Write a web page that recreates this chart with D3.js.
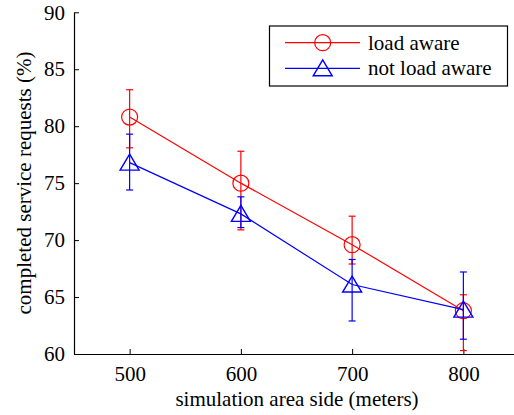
<!DOCTYPE html>
<html>
<head>
<meta charset="utf-8">
<script src="https://cdn.jsdelivr.net/npm/d3@7"></script>
<style>
  body { margin: 0; background: #fff; }
  svg text { font-family: "Liberation Serif", "Times New Roman", serif; }
</style>
</head>
<body>
<svg id="chart" width="514" height="415"></svg>
<script>
// data
var sides = [500, 600, 700, 800];
var awareMean = [80.8, 75.0, 69.6, 63.8];
var awareLow  = [78.1, 70.9, 67.9, 60.3];
var awareHigh = [83.2, 77.8, 72.1, 65.2];
var notAwareMean = [76.8, 72.3, 66.1, 63.9];
var notAwareLow  = [74.4, 71.1, 62.9, 61.3];
var notAwareHigh = [79.3, 73.8, 68.3, 67.2];
var yTicks = [60, 65, 70, 75, 80, 85, 90];
var seriesNames = ["load aware", "not load aware"];

var svg = d3.select("svg");

var x = d3.scaleLinear().domain([450, 850]).range([74, 519]);
var y = d3.scaleLinear().domain([60, 90]).range([354, 12.3]);

function build(mean, lo, hi) {
  return sides.map(function(s, i) {
    return { x: s, y: mean[i], lo: lo[i], hi: hi[i] };
  });
}
var series = [
  { name: seriesNames[0], color: "#ff0000", shape: "circle", values: build(awareMean, awareLow, awareHigh) },
  { name: seriesNames[1], color: "#0000ff", shape: "triangle", values: build(notAwareMean, notAwareLow, notAwareHigh) }
];

// axes
var xAxis = svg.append("g")
  .attr("transform", "translate(0," + y(60) + ")")
  .call(d3.axisBottom(x).tickValues(sides).tickSizeInner(-5).tickSizeOuter(0).tickPadding(12));
var yAxis = svg.append("g")
  .attr("transform", "translate(" + x(450) + ",0)")
  .call(d3.axisLeft(y).tickValues(yTicks).tickSizeInner(-5).tickSizeOuter(0).tickPadding(9));

[xAxis, yAxis].forEach(function(a) {
  a.select(".domain").attr("stroke", "#000").attr("stroke-width", 1.2);
  a.selectAll(".tick line").attr("stroke", "#000");
  a.selectAll(".tick text").attr("font-size", 21).attr("fill", "#000")
    .attr("font-family", "Liberation Serif");
});

svg.append("text")
  .attr("x", 297).attr("y", 406)
  .attr("text-anchor", "middle")
  .attr("font-size", 21)
  .text("simulation area side (meters)");

svg.append("text")
  .attr("transform", "translate(31,183) rotate(-90)")
  .attr("text-anchor", "middle")
  .attr("font-size", 21)
  .text("completed service requests (%)");

var line = d3.line().x(function(d) { return x(d.x); }).y(function(d) { return y(d.y); });

function drawMarker(g, shape, color) {
  if (shape === "circle") {
    g.append("circle").attr("r", 8).attr("fill", "none")
      .attr("stroke", color).attr("stroke-width", 1.2);
  } else {
    g.append("path").attr("d", "M0,-8.5L9.5,7.5L-9.5,7.5Z").attr("fill", "none")
      .attr("stroke", color).attr("stroke-width", 1.4);
  }
}

series.forEach(function(s) {
  var g = svg.append("g");
  // error bars
  s.values.forEach(function(d) {
    var cx = x(d.x);
    g.append("line").attr("x1", cx).attr("x2", cx).attr("y1", y(d.lo)).attr("y2", y(d.hi))
      .attr("stroke", s.color).attr("stroke-width", 1.2);
    [d.lo, d.hi].forEach(function(v) {
      g.append("line").attr("x1", cx - 3.5).attr("x2", cx + 3.5).attr("y1", y(v)).attr("y2", y(v))
        .attr("stroke", s.color).attr("stroke-width", 1.2);
    });
  });
  g.append("path").datum(s.values).attr("d", line)
    .attr("fill", "none").attr("stroke", s.color).attr("stroke-width", 1.2);
  s.values.forEach(function(d) {
    var m = g.append("g").attr("transform", "translate(" + x(d.x) + "," + y(d.y) + ")");
    drawMarker(m, s.shape, s.color);
  });
});

// legend
var legend = svg.append("g");
legend.append("rect").attr("x", 269.5).attr("y", 26).attr("width", 238).attr("height", 60)
  .attr("fill", "#fff").attr("stroke", "#000").attr("stroke-width", 1.2);
series.forEach(function(s, i) {
  var ly = 42.7 + i * 25.6;
  legend.append("line").attr("x1", 285).attr("x2", 360).attr("y1", ly).attr("y2", ly)
    .attr("stroke", s.color).attr("stroke-width", 1.2);
  var m = legend.append("g").attr("transform", "translate(322.7," + ly + ")");
  drawMarker(m, s.shape, s.color);
  legend.append("text").attr("x", 368).attr("y", ly + 7).attr("font-size", 21).text(s.name);
});
</script>
</body>
</html>
